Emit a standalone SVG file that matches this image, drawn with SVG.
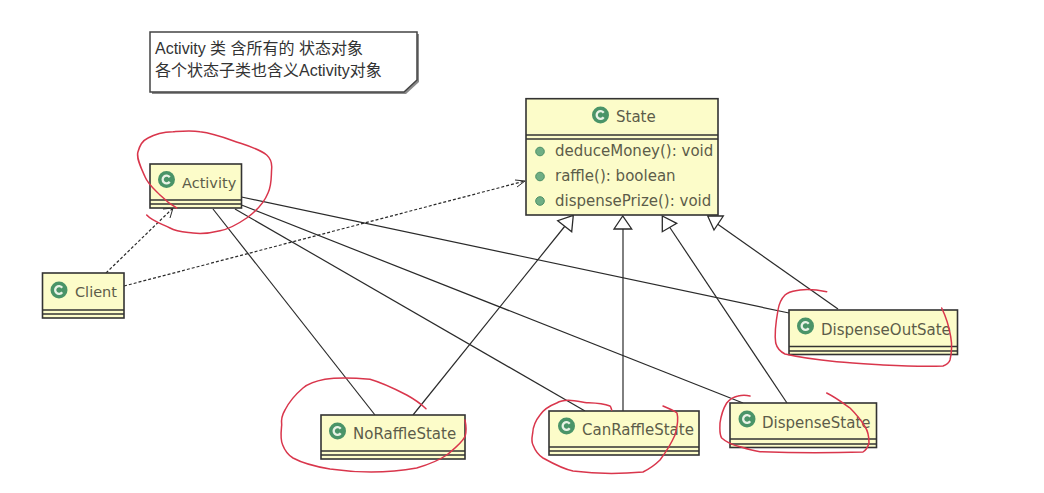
<svg xmlns="http://www.w3.org/2000/svg" width="1044" height="493" viewBox="0 0 1044 493">
<style>
.box{fill:#fcfcc9;stroke:#333;stroke-width:1.6}
.sep{stroke:#333;stroke-width:1.3;fill:none}
.t{font-family:"DejaVu Sans",sans-serif;font-size:15px;fill:#5c5c4a}
.note{font-family:"Liberation Sans","Noto Sans CJK SC",sans-serif;font-size:16px;fill:#333}
.solid{stroke:#2a2a2a;stroke-width:1.2;fill:none}
.dash{stroke:#2a2a2a;stroke-width:1.2;fill:none;stroke-dasharray:3 2}
.open{stroke:#2a2a2a;stroke-width:1;fill:none}
.tri{stroke:#2a2a2a;stroke-width:1.3;fill:#fff}
.red{stroke:#d9364c;stroke-width:1.5;fill:none;stroke-linecap:round;stroke-linejoin:round}
.dot{fill:#6fae84;stroke:#4b8f66;stroke-width:1}
</style>
<defs>
<g id="cicon">
<circle r="8.500" fill="#4a9468"/>
<path d="M3.200 -2.300A3.900 3.900 0 1 0 3.200 2.300" fill="none" stroke="#e9f2e6" stroke-width="2.300"/>
</g>
</defs>
<rect width="1044" height="493" fill="#fff"/>
<g id="note">
<polygon points="152,34 419,34 419,82 406,94 152,94" fill="#8a8a8a"/>
<polygon points="150,32 417,32 417,80 404,92 150,92" fill="#fff" stroke="#444" stroke-width="1.5"/>
<text class="note" x="155" y="54">Activity 类 含所有的 状态对象</text>
<text class="note" x="155" y="76">各个状态子类也含义Activity对象</text>
</g>
<g id="connectors">
<path class="dash" d="M106 273L173 208"/>
<path class="open" d="M163 209L173 208L170 218"/>
<path class="dash" d="M124 286L525 181"/>
<path class="open" d="M515 180L525 181L517 187"/>
<path class="solid" d="M241.500 197L789 313"/>
<path class="solid" d="M241.500 205L743 403"/>
<path class="solid" d="M235 209L585 411"/>
<path class="solid" d="M213 209L375 415"/>
<path class="solid" d="M413 415L565 226"/>
<path class="solid" d="M623 411V229"/>
<path class="solid" d="M787 403L669.500 227"/>
<path class="solid" d="M838 309L716 223"/>
<polygon class="tri" points="573.300,215.300 557.700,220.700 571.700,231.700"/>
<polygon class="tri" points="622.700,216 614,229 631.700,229"/>
<polygon class="tri" points="662.300,216 662.300,231.700 676.700,223.300"/>
<polygon class="tri" points="707.700,216 723.300,216 714,230"/>
</g>
<g id="State">
<rect class="box" x="526" y="98.700" width="192" height="116.300"/>
<path class="sep" d="M526 135H718M526 139H718"/>
<use href="#cicon" x="600.500" y="115"/>
<text class="t" x="616" y="122">State</text>
<circle class="dot" cx="540" cy="151.500" r="4.300"/>
<circle class="dot" cx="540" cy="176.500" r="4.300"/>
<circle class="dot" cx="540" cy="201" r="4.300"/>
<text class="t" x="555" y="156">deduceMoney(): void</text>
<text class="t" x="555" y="181">raffle(): boolean</text>
<text class="t" x="555" y="206">dispensePrize(): void</text>
</g>
<g id="Activity">
<rect class="box" x="150" y="164" width="91.500" height="44"/>
<path class="sep" d="M150 200H241.500M150 204H241.500"/>
<use href="#cicon" x="166.500" y="179.500"/>
<text class="t" x="182" y="188" style="font-size:14.500px">Activity</text>
</g>
<g id="Client">
<rect class="box" x="42.500" y="273" width="81.500" height="45"/>
<path class="sep" d="M42.500 310H124M42.500 314H124"/>
<use href="#cicon" x="59" y="290"/>
<text class="t" x="75" y="297" style="font-size:14.500px">Client</text>
</g>
<g id="NoRaffleState">
<rect class="box" x="321" y="415" width="144" height="44"/>
<path class="sep" d="M321 451H465M321 455H465"/>
<use href="#cicon" x="337.500" y="431"/>
<text class="t" x="353" y="439">NoRaffleState</text>
</g>
<g id="CanRaffleState">
<rect class="box" x="549" y="411" width="150" height="44"/>
<path class="sep" d="M549 447H699M549 451H699"/>
<use href="#cicon" x="566.500" y="426"/>
<text class="t" x="582" y="435">CanRaffleState</text>
</g>
<g id="DispenseState">
<rect class="box" x="730" y="403" width="146.500" height="44.500"/>
<path class="sep" d="M730 439H876.500M730 444H876.500"/>
<use href="#cicon" x="747" y="419"/>
<text class="t" x="762" y="428">DispenseState</text>
</g>
<g id="DispenseOutSate">
<rect class="box" x="789" y="310" width="168.500" height="44.500"/>
<path class="sep" d="M789 346.500H957.500M789 351H957.500"/>
<use href="#cicon" x="805.500" y="326"/>
<text class="t" x="821" y="335">DispenseOutSate</text>
</g>
<g id="annotations">
<path class="red" d="M176.700 208C168 203 166 201 160 195C153 188 148 184 145 176.700C141 168 136 158 138 151.700C140 145 142 141 148 138C155 134 164 132 173 131.700C182 131 191 130 200 131.700C212 133 223 137 233 140.700C245 145 258 148 266.700 155C271 159 272 163 271.700 168C271 177 272 185 268 193C264 203 255 212 246.700 218C238 224 230 229 220 230.700C211 233 202 234 193 233C185 232 177 232 170 228C162 224 152 221 146.700 215"/>
<path class="red" d="M426 408.700C420 403 414 399 406.700 395C395 389 383 383 370 379.300C355 378 340 377 325 379.300C316 381 309 383 303 388C296 394 289 402 285 410C282 415 281 420 281.700 425C281 432 280 439 282.700 445C285 451 288 455 293 458C304 464 318 467 330 469C358 473 389 473 416.700 468C427 465 438 461 446.700 455C454 449 461 444 465 436.700C467 431 466 425 465 420"/>
<path class="red" d="M611.700 410C611 408 611 407 610 406C602 403 595 403 586.700 402.700C576 401 565 398 556.700 403C549 406 544 409 540 415C536 420 533 427 532.700 433C532 437 531 441 533 445C535 450 538 455 543 458C552 463 563 469 573 471C596 474 620 474 643 472C649 469 655 465 660 460C666 452 671 444 675 435C677 428 679 420 677 413C673 410 668 408 663 406"/>
<path class="red" d="M826.700 291.700C818 290 809 289 800 290C794 291 789 291 785 295C781 299 779 304 778 310C776 321 774 332 775.700 343C777 348 781 352 785 354C802 358 819 360 836.700 361.700C852 363 868 364 883 365C903 366 923 367 943 366C946 365 949 363 950 360C952 352 952 344 950.700 336.700C949 326 946 317 941.700 308"/>
<path class="red" d="M750 396C746 395 742 395 738 396C733 397 730 399 726.700 403C723 409 721 416 720 423C720 428 719 434 721.700 438C726 442 733 445 740 446.700C747 449 753 451 760 451.700C794 453 829 453 863 452C866 450 868 447 869 443C869 437 868 431 865 426.700C861 420 856 414 850 408C843 403 835 397 826.700 393"/>
</g>
</svg>
